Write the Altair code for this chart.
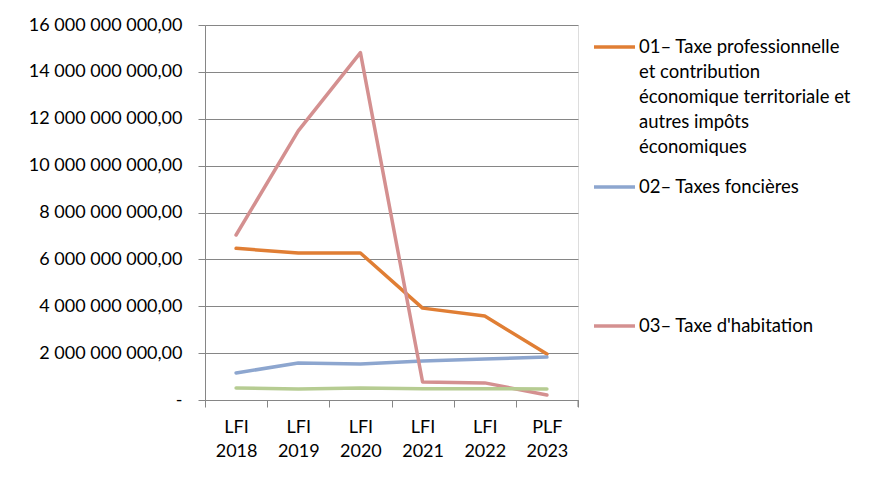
import altair as alt
import pandas as pd

categories = ["LFI 2018", "LFI 2019", "LFI 2020", "LFI 2021", "LFI 2022", "PLF 2023"]
series_names = [
    "01– Taxe professionnelle et contribution économique territoriale et autres impôts économiques",
    "02– Taxes foncières",
    "03– Taxe d'habitation",
    "04– Autres",
]
s01 = [6.47e9, 6.27e9, 6.27e9, 3.92e9, 3.58e9, 1.96e9]
s02 = [1.15e9, 1.58e9, 1.54e9, 1.66e9, 1.75e9, 1.83e9]
s03 = [7.04e9, 11.48e9, 14.82e9, 0.77e9, 0.73e9, 0.21e9]
s04 = [0.51e9, 0.47e9, 0.51e9, 0.48e9, 0.48e9, 0.47e9]
colors = ["#E07E34", "#8DA6CF", "#D49090", "#B6CC92"]
y_ticks = [0, 2e9, 4e9, 6e9, 8e9, 10e9, 12e9, 14e9, 16e9]
legend_lines_01 = ["01– Taxe professionnelle", "et contribution",
                   "économique territoriale et", "autres impôts", "économiques"]

rows = []
for name, vals in zip(series_names, [s01, s02, s03, s04]):
    for c, v in zip(categories, vals):
        rows.append({"cat": c, "serie": name, "val": v})
df = pd.DataFrame(rows)
one = pd.DataFrame({"k": [0]})

FONT = "Lato"
W, H = 373, 375

lines = alt.Chart(df).mark_line(strokeWidth=3.5, strokeCap="round", strokeJoin="round").encode(
    x=alt.X("cat:N", sort=categories, title=None,
            scale=alt.Scale(paddingInner=0, paddingOuter=0),
            axis=alt.Axis(labelAngle=0, tickBand="extent",
                          labelExpr="isValid(datum.value) ? split(datum.value, ' ') : ''",
                          labelFont=FONT, labelFontSize=18, labelColor="#000000",
                          labelLineHeight=24, labelPadding=11,
                          domainColor="#868686", tickColor="#868686", tickSize=7,
                          grid=False)),
    y=alt.Y("val:Q", title=None,
            scale=alt.Scale(domain=[0, 16e9], nice=False),
            axis=alt.Axis(values=y_ticks,
                          labelExpr="datum.value == 0 ? '-\u00a0\u00a0\u00a0\u00a0\u00a0\u00a0' : replace(replace(format(datum.value, ',.2f'), regexp(',', 'g'), ' '), '.', ',')",
                          labelFont=FONT, labelFontSize=18, labelColor="#000000",
                          labelPadding=16,
                          domainColor="#868686", tickColor="#868686", tickSize=7,
                          gridColor="#868686", grid=True)),
    color=alt.Color("serie:N", scale=alt.Scale(domain=series_names, range=colors), legend=None),
    order=alt.Order("serie:N"),
)

layers = [lines]

# right end tick of x axis
layers.append(alt.Chart(one).mark_rule(color="#868686", strokeWidth=1).encode(
    x=alt.value(W), y=alt.value(H), y2=alt.value(H + 7)))

# manual legend
leg_y = [22, 162, 301]
for i in range(3):
    layers.append(alt.Chart(one).mark_rule(color=colors[i], strokeWidth=3.5).encode(
        x=alt.value(389), x2=alt.value(430), y=alt.value(leg_y[i])))

layers.append(alt.Chart(one).mark_text(text=legend_lines_01, align="left", baseline="top",
                                       font=FONT, fontSize=18.5, lineHeight=25, color="#000000").encode(
    x=alt.value(434), y=alt.value(leg_y[0] - 9)))
for i in [1, 2]:
    layers.append(alt.Chart(one).mark_text(text=series_names[i], align="left", baseline="middle",
                                           font=FONT, fontSize=18.5, color="#000000").encode(
        x=alt.value(434), y=alt.value(leg_y[i])))

chart = alt.layer(*layers).properties(
    width=W, height=H,
    autosize=alt.AutoSizeParams(type="none"),
    padding={"left": 197, "top": 17, "right": 286, "bottom": 75},
).configure_view(stroke=None).configure(background="white")

chart.save("out.html", embed_options={"renderer": "svg", "actions": False})
